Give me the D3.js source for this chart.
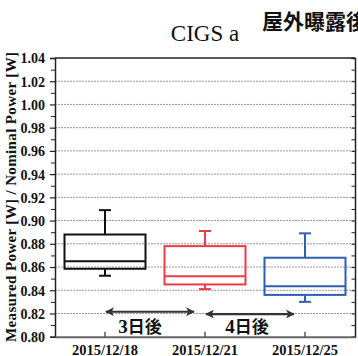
<!DOCTYPE html>
<html><head><meta charset="utf-8">
<script src="https://cdn.jsdelivr.net/npm/d3@7"></script>
<style>body{margin:0;background:#fff;overflow:hidden}svg{display:block}</style>
</head><body>
<svg id="c" width="358" height="356"></svg>
<script>
const categories = ["2015/12/18", "2015/12/21", "2015/12/25"];
const whiskerHigh = [0.909, 0.891, 0.889];
const q3 = [0.888, 0.878, 0.868];
const median = [0.865, 0.852, 0.8435];
const q1 = [0.8585, 0.845, 0.836];
const whiskerLow = [0.8525, 0.841, 0.830];
const colors = ["#111111", "#ee3b48", "#2f5fb0"];
const yTicks = [0.80,0.82,0.84,0.86,0.88,0.90,0.92,0.94,0.96,0.98,1.00,1.02,1.04];
const yMinor = [0.81,0.83,0.85,0.87,0.89,0.91,0.93,0.95,0.97,0.99,1.01,1.03];
const arrows = [{from:"2015/12/18", to:"2015/12/21", label:"3日後", y:0.8215},
                {from:"2015/12/21", to:"2015/12/25", label:"4日後", y:0.8195}];

const svg = d3.select("#c");
const L = 55, R = 355, T = 58, B = 336.7;
const x = d3.scaleBand().domain(categories).range([L, R]).padding(0);
const y = d3.scaleLinear().domain([0.80, 1.04]).range([B, T]);
const serif = "'Liberation Serif','Times New Roman',serif";

// grid
svg.append("g").selectAll("line").data(yTicks.slice(1, -1)).join("line")
  .attr("x1", L).attr("x2", R).attr("y1", d => y(d)).attr("y2", d => y(d))
  .attr("stroke", "#999").attr("stroke-width", 1).attr("stroke-dasharray", "2,1");

// left axis
const yAxis = d3.axisLeft(y).tickValues(yTicks).tickSize(5).tickFormat(d3.format(".2f"));
const gy = svg.append("g").attr("transform", `translate(${L},0)`).call(yAxis);
gy.select(".domain").attr("stroke", "#222").attr("stroke-width", 1.5);
gy.selectAll(".tick line").attr("stroke", "#222").attr("stroke-width", 1.2);
gy.selectAll(".tick text").attr("font-family", serif).attr("font-weight", "bold")
  .attr("font-size", 14).attr("fill", "#111").attr("x", -10).attr("dy", "0.35em");
svg.append("g").attr("transform", `translate(${L},0)`)
  .call(d3.axisLeft(y).tickValues(yMinor).tickSize(4).tickFormat(""))
  .call(g => g.select(".domain").remove())
  .selectAll("line").attr("stroke", "#222");

// right axis (inward ticks)
svg.append("g").attr("transform", `translate(${R},0)`)
  .call(d3.axisRight(y).tickValues(yTicks.concat(yMinor)).tickSize(-3.5).tickFormat(""))
  .call(g => g.select(".domain").attr("stroke", "#222").attr("stroke-width", 1.5))
  .selectAll("line").attr("stroke", "#222");

// top border
svg.append("line").attr("x1", L).attr("x2", R).attr("y1", T).attr("y2", T)
  .attr("stroke", "#222").attr("stroke-width", 1.5);

// bottom axis
const xAxis = d3.axisBottom(x).tickSize(-5).tickSizeOuter(0);
const gx = svg.append("g").attr("transform", `translate(0,${B})`).call(xAxis);
gx.select(".domain").attr("stroke", "#666").attr("stroke-width", 2);
gx.selectAll(".tick line").attr("stroke", "#333").attr("stroke-width", 1.2);
gx.selectAll(".tick text").attr("font-family", serif).attr("font-weight", "bold")
  .attr("font-size", 14.5).attr("fill", "#111").attr("y", 8.5).attr("dy", "0.71em");

// boxes
const bw = 81, cap = 12;
const boxes = svg.append("g").selectAll("g").data(categories).join("g");
boxes.each(function(c, i) {
  const g = d3.select(this);
  const cx = x(c) + x.bandwidth() / 2;
  const col = colors[i];
  g.append("line").attr("x1", cx).attr("x2", cx).attr("y1", y(whiskerHigh[i])).attr("y2", y(q3[i]))
    .attr("stroke", col).attr("stroke-width", 2);
  g.append("line").attr("x1", cx).attr("x2", cx).attr("y1", y(q1[i])).attr("y2", y(whiskerLow[i]))
    .attr("stroke", col).attr("stroke-width", 2);
  g.append("line").attr("x1", cx - cap / 2).attr("x2", cx + cap / 2)
    .attr("y1", y(whiskerHigh[i])).attr("y2", y(whiskerHigh[i])).attr("stroke", col).attr("stroke-width", 2);
  g.append("line").attr("x1", cx - cap / 2).attr("x2", cx + cap / 2)
    .attr("y1", y(whiskerLow[i])).attr("y2", y(whiskerLow[i])).attr("stroke", col).attr("stroke-width", 2);
  g.append("rect").attr("x", cx - bw / 2).attr("width", bw)
    .attr("y", y(q3[i])).attr("height", y(q1[i]) - y(q3[i]))
    .attr("fill", "none").attr("stroke", col).attr("stroke-width", 2);
  g.append("line").attr("x1", cx - bw / 2).attr("x2", cx + bw / 2)
    .attr("y1", y(median[i])).attr("y2", y(median[i])).attr("stroke", col).attr("stroke-width", 2);
});

// arrows
const defs = svg.append("defs");
defs.append("marker").attr("id", "ah").attr("viewBox", "0 0 10 10").attr("refX", 9).attr("refY", 5)
  .attr("markerWidth", 4).attr("markerHeight", 4).attr("orient", "auto-start-reverse")
  .attr("markerUnits", "strokeWidth")
  .append("path").attr("d", "M0,0 L10,5 L0,10 L2.5,5 Z").attr("fill", "#333");
const ag = svg.append("g").selectAll("g").data(arrows).join("g");
ag.append("line")
  .attr("x1", d => x(d.from) + x.bandwidth() / 2 + 1)
  .attr("x2", d => x(d.to) + x.bandwidth() / 2 - 11)
  .attr("y1", d => y(d.y)).attr("y2", d => y(d.y))
  .attr("stroke", "#333").attr("stroke-width", 2.2)
  .attr("marker-start", "url(#ah)").attr("marker-end", "url(#ah)");
ag.append("text")
  .attr("x", (d, i) => (x(d.from) + x(d.to)) / 2 + x.bandwidth() / 2 - 15 + i * 7)
  .attr("y", 333).attr("text-anchor", "middle")
  .attr("font-family", "'Noto Sans CJK JP',sans-serif").attr("font-weight", "bold")
  .attr("font-size", 17).attr("fill", "#111")
  .each(function(d) {
    const t = d3.select(this);
    t.append("tspan").attr("font-family", serif).attr("font-size", 19).text(d.label[0]);
    t.append("tspan").text(d.label.slice(1));
  });

// titles
svg.append("text").attr("x", 205).attr("y", 41).attr("text-anchor", "middle")
  .attr("font-family", serif).attr("font-size", 23).attr("fill", "#111").text("CIGS a");
svg.append("text").attr("x", 262).attr("y", 29)
  .attr("font-family", "'Noto Sans CJK JP',sans-serif").attr("font-weight", "bold")
  .attr("font-size", 21).attr("fill", "#111").text("屋外曝露後の変化");
svg.append("text").attr("transform", "translate(15.5,197) rotate(-90)").attr("text-anchor", "middle")
  .attr("font-family", serif).attr("font-weight", "bold").attr("font-size", 15).attr("fill", "#111")
  .attr("textLength", 290).attr("lengthAdjust", "spacing")
  .text("Measured Power [W] / Nominal Power [W]");
</script>
</body></html>
